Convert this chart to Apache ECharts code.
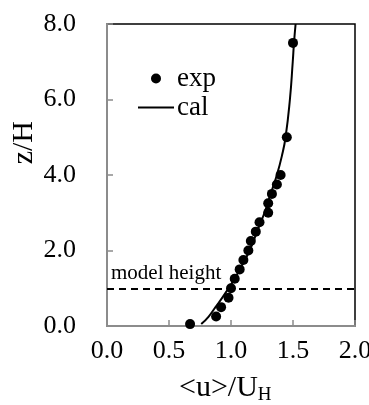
<!DOCTYPE html>
<html>
<head>
<meta charset="utf-8">
<script src="https://cdn.jsdelivr.net/npm/echarts@6/dist/echarts.min.js"></script>
<style>
  html, body { margin: 0; padding: 0; background: #fff; }
  #chart { width: 369px; height: 405px; }
</style>
</head>
<body>
<div id="chart"></div>
<script>
// measured profile, <u>/U_H against z/H
const expU = [0.67, 0.88, 0.92, 0.98, 1.0, 1.03, 1.07, 1.10, 1.14, 1.16, 1.20, 1.23, 1.30, 1.30, 1.33, 1.37, 1.40, 1.45, 1.50];
const expZ = [0.05, 0.25, 0.5, 0.75, 1.0, 1.25, 1.5, 1.75, 2.0, 2.25, 2.5, 2.75, 3.0, 3.25, 3.5, 3.75, 4.0, 5.0, 7.5];
// calculated profile
const calU = [0.76, 0.82, 0.875, 0.93, 0.98, 1.03, 1.07, 1.15, 1.21, 1.27, 1.32, 1.37, 1.41, 1.44, 1.475, 1.498, 1.508, 1.521];
const calZ = [0.05, 0.25, 0.5, 0.75, 1.0, 1.25, 1.5, 2.0, 2.5, 3.0, 3.5, 4.0, 4.5, 5.0, 6.0, 7.0, 7.5, 8.0];
const modelHeight = 1.0;

const font = 'Liberation Serif';
const gray = '#8c8c8c';

const chart = echarts.init(document.getElementById('chart'));
chart.setOption({
  animation: false,
  textStyle: { fontFamily: font, color: '#000' },
  grid: {
    left: 107, top: 24, right: 14, bottom: 79,
    outerBoundsMode: 'none',
    show: true, borderColor: '#000', borderWidth: 1.5
  },
  legend: {
    orient: 'vertical',
    left: 132, top: 60,
    itemWidth: 36, itemHeight: 10, itemGap: 2,
    textStyle: { fontFamily: font, fontSize: 27, color: '#000', padding: [0, 0, 0, -2] },
    data: [
      { name: 'exp', icon: 'circle' },
      { name: 'cal', itemStyle: { opacity: 0 }, lineStyle: { color: '#000', width: 2 } }
    ]
  },
  xAxis: {
    type: 'value', min: 0, max: 2, interval: 0.5,
    axisLine: { lineStyle: { color: gray, width: 2 } },
    axisTick: { inside: true, length: 6, lineStyle: { color: gray, width: 1.5 } },
    axisLabel: { fontFamily: font, fontSize: 26, color: '#000', margin: 12,
      formatter: v => v.toFixed(1) },
    splitLine: { show: false }
  },
  yAxis: {
    type: 'value', min: 0, max: 8, interval: 2,
    axisLine: { show: true, lineStyle: { color: gray, width: 2 } },
    axisTick: { show: true, inside: true, length: 6, lineStyle: { color: gray, width: 1.5 } },
    axisLabel: { fontFamily: font, fontSize: 26, color: '#000', margin: 31,
      formatter: v => v.toFixed(1) },
    splitLine: { show: false }
  },
  graphic: [
    {
      type: 'text', left: 9, top: 121, rotation: Math.PI / 2,
      style: { text: 'z/H', font: '30px ' + font, fill: '#000' }
    },
    {
      type: 'text', left: 179, top: 373,
      style: {
        text: '<u>/U{s|H}', font: '30px ' + font, fill: '#000',
        rich: { s: { fontSize: 19, fontFamily: font, verticalAlign: 'bottom', padding: [14, 0, 0, 0] } }
      }
    }
  ],
  series: [
    {
      name: 'exp', type: 'scatter', clip: false,
      symbol: 'circle', symbolSize: 10,
      itemStyle: { color: '#000', opacity: 1 },
      data: expU.map((u, i) => [u, expZ[i]]),
      z: 3
    },
    {
      name: 'cal', type: 'line', smooth: true, symbol: 'none',
      lineStyle: { color: '#000', width: 2 },
      itemStyle: { color: '#000' },
      data: calU.map((u, i) => [u, calZ[i]]),
      markLine: {
        silent: true, symbol: 'none',
        lineStyle: { color: '#000', type: [7, 5], width: 2 },
        label: {
          position: 'insideStartTop', formatter: 'model height',
          fontFamily: font, fontSize: 21, color: '#000', distance: [4, 4]
        },
        data: [{ yAxis: modelHeight }]
      },
      z: 2
    }
  ]
});
</script>
</body>
</html>
